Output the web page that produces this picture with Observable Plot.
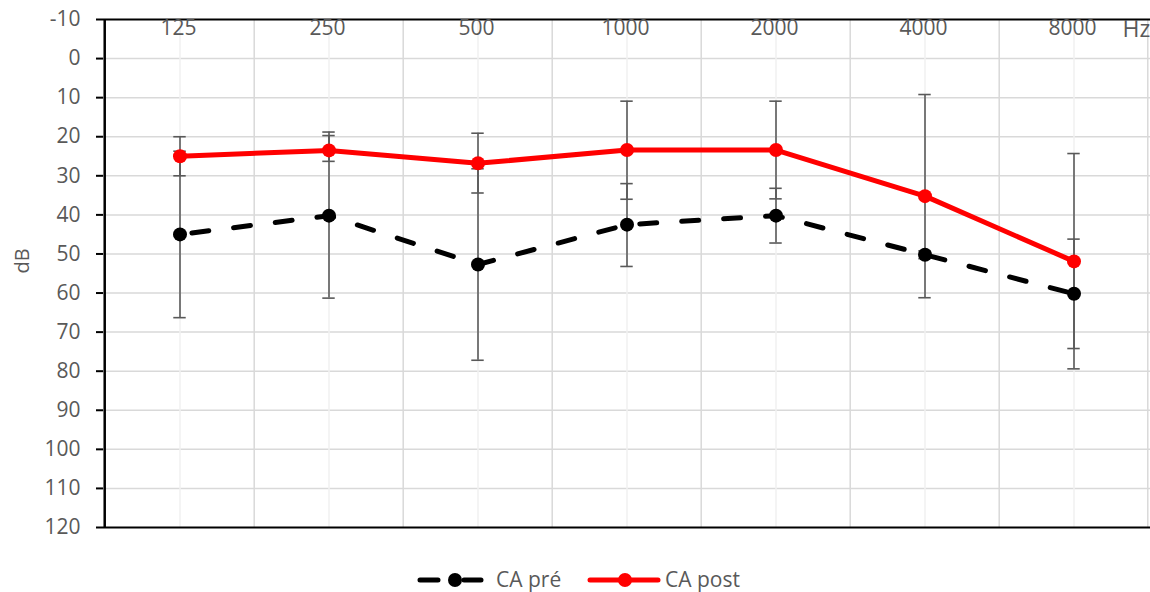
<!DOCTYPE html>
<html>
<head>
<meta charset="utf-8">
<script src="https://cdn.jsdelivr.net/npm/d3@7"></script>
<script src="https://cdn.jsdelivr.net/npm/@observablehq/plot@0.6"></script>
<style>
  body { margin: 0; background: #fff; font-family: "Open Sans", sans-serif; }
  #chart svg { display: block; }
  #legend { display: block; }
</style>
</head>
<body>
<div id="chart"></div>
<svg id="legend" width="1150" height="52"></svg>
<script>
// ---- data ----
const freqs = ["125", "250", "500", "1000", "2000", "4000", "8000"];
const preMean = [45, 40.2, 52.7, 42.5, 40.2, 50.2, 60.2];
const preLow  = [23.7, 18.8, 28.2, 32.0, 33.2, 49.2, 46.2];
const preHigh = [66.3, 61.3, 77.2, 53.2, 47.2, 51.2, 74.2];
const postMean = [25, 23.5, 26.8, 23.4, 23.4, 35.2, 51.9];
const postLow  = [20, 19.7, 19.1, 10.9, 10.9, 9.2, 24.3];
const postHigh = [30, 26.3, 34.4, 36.0, 35.9, 61.2, 79.4];
const yTicks = [-10, 0, 10, 20, 30, 40, 50, 60, 70, 80, 90, 100, 110, 120];
const yGrid = [0, 10, 20, 30, 40, 50, 60, 70, 80, 90, 100, 110];
const seriesNames = ["CA pré", "CA post"];
const unitX = "Hz";
const unitY = "dB";

const rows = freqs.map((f, i) => ({
  f, pre: preMean[i], preLow: preLow[i], preHigh: preHigh[i],
  post: postMean[i], postLow: postLow[i], postHigh: postHigh[i]
}));

const W = 1150, ML = 103, MR = 0;
const half = (W - ML - MR) / freqs.length / 2;
const capInset = half - 6.5;
const grey = "#595959";
const errStyle = {stroke: grey, strokeWidth: 1.6};

const chart = Plot.plot({
  width: W, height: 540,
  marginLeft: ML, marginRight: MR, marginTop: 19, marginBottom: 13,
  style: {fontFamily: "Open Sans, sans-serif", background: "white"},
  x: {type: "band", domain: freqs, padding: 0, axis: null},
  y: {domain: [-10, 120], reverse: true, axis: null},
  marks: [
    Plot.ruleY(yGrid, {stroke: "#d9d9d9", strokeWidth: 1.5}),
    Plot.ruleX(freqs, {x: d => d, stroke: "#f0f0f0", strokeWidth: 1.5}),
    Plot.ruleX(freqs.slice(1), {x: d => d, dx: -half, stroke: "#d9d9d9", strokeWidth: 1.5}),
    Plot.ruleX(freqs.slice(-1), {x: d => d, dx: half - 1, stroke: "#d9d9d9", strokeWidth: 1.5}),
    Plot.ruleY([-10, 120], {stroke: "black", strokeWidth: 2}),
    Plot.ruleX(freqs.slice(0, 1), {x: d => d, dx: -half - 0.5, stroke: "black", strokeWidth: 2.5}),
    // error bars
    Plot.ruleX(rows, {x: "f", y1: "preLow", y2: "preHigh", ...errStyle}),
    Plot.ruleX(rows, {x: "f", y1: "postLow", y2: "postHigh", ...errStyle}),
    Plot.tickY(rows, {x: "f", y: "preLow", insetLeft: capInset, insetRight: capInset, ...errStyle}),
    Plot.tickY(rows, {x: "f", y: "preHigh", insetLeft: capInset, insetRight: capInset, ...errStyle}),
    Plot.tickY(rows, {x: "f", y: "postLow", insetLeft: capInset, insetRight: capInset, ...errStyle}),
    Plot.tickY(rows, {x: "f", y: "postHigh", insetLeft: capInset, insetRight: capInset, ...errStyle}),
    // series
    Plot.line(rows, {x: "f", y: "pre", stroke: "black", strokeWidth: 5, strokeDasharray: "17,25", strokeLinecap: "round", strokeDashoffset: -12}),
    Plot.line(rows, {x: "f", y: "post", stroke: "#ff0000", strokeWidth: 5}),
    Plot.dot(rows, {x: "f", y: "pre", r: 7, fill: "black"}),
    Plot.dot(rows, {x: "f", y: "post", r: 7, fill: "#ff0000"}),
    // y axis ticks + labels
    Plot.axisY({ticks: yTicks, tickSize: 7, tickFormat: () => "", color: "black", strokeWidth: 2}),
    Plot.text(yTicks, {y: d => d, frameAnchor: "left", textAnchor: "end", dx: -23, fill: grey, fontSize: 21}),
    Plot.text([unitY], {frameAnchor: "left", dx: -81, rotate: -90, fill: grey, fontSize: 20}),
    // x labels at top inside frame
    Plot.text(freqs, {x: d => d, dx: -1.5, frameAnchor: "top", lineAnchor: "top", dy: 1, fill: grey, fontSize: 21}),
    Plot.text([unitX], {frameAnchor: "top-right", lineAnchor: "top", textAnchor: "start", dx: -28, dy: 1, fill: grey, fontSize: 23})
  ]
});
document.getElementById("chart").appendChild(chart);

// ---- legend ----
const lg = d3.select("#legend");
const cy = 40;
const items = [
  {name: seriesNames[0], color: "black", dash: "17,25", x0: 420, x1: 481, mx: 455, tx: 496},
  {name: seriesNames[1], color: "#ff0000", dash: null, x0: 590, x1: 658, mx: 625, tx: 665}
];
items.forEach(it => {
  lg.append("line").attr("x1", it.x0).attr("x2", it.x1).attr("y1", cy).attr("y2", cy)
    .attr("stroke", it.color).attr("stroke-width", 5).attr("stroke-linecap", "round")
    .attr("stroke-dasharray", it.dash ? "18,26" : null);
  lg.append("circle").attr("cx", it.mx).attr("cy", cy).attr("r", 7).attr("fill", it.color);
  lg.append("text").attr("x", it.tx).attr("y", cy).attr("dy", "0.35em")
    .attr("fill", grey).attr("font-size", 21).attr("font-family", "Open Sans, sans-serif").text(it.name);
});
</script>
</body>
</html>
